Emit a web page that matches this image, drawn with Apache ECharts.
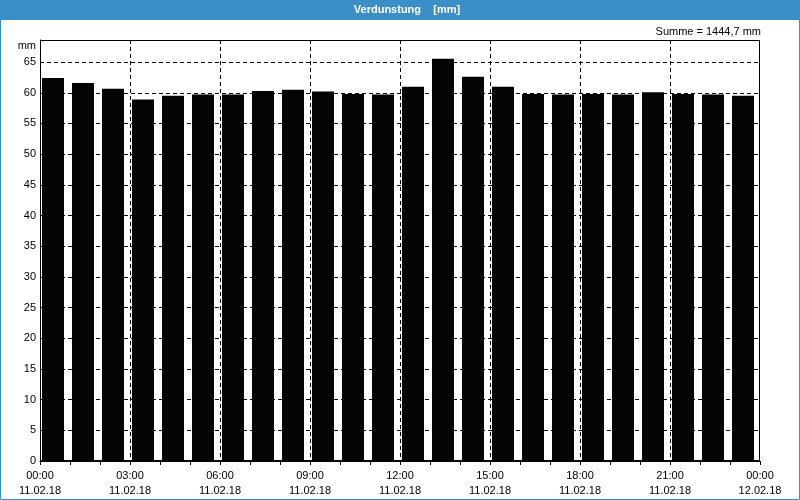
<!DOCTYPE html>
<html>
<head>
<meta charset="utf-8">
<script src="https://cdn.jsdelivr.net/npm/echarts@6/dist/echarts.min.js"></script>
<style>
html,body{margin:0;padding:0;background:#fff;}
#c{width:800px;height:500px;}
</style>
</head>
<body>
<div id="c"></div>
<script>
// Hourly categories (start hour of each bar)
var hours = ['00','01','02','03','04','05','06','07','08','09','10','11','12','13','14','15','16','17','18','19','20','21','22','23'];
// Evaporation values [mm]
var values = [62.4, 61.6, 60.65, 58.9, 59.5, 59.7, 59.7, 60.3, 60.5, 60.2, 59.8, 59.7, 61.0, 65.55, 62.6, 61.0, 59.8, 59.7, 59.8, 59.7, 60.1, 59.8, 59.7, 59.5];
// X tick labels (every 3 hours)
var xTickTimes = ['00:00','03:00','06:00','09:00','12:00','15:00','18:00','21:00','00:00'];
var xTickDates = ['11.02.18','11.02.18','11.02.18','11.02.18','11.02.18','11.02.18','11.02.18','11.02.18','12.02.18'];
var titleText = 'Verdunstung    [mm]';
var sumText = 'Summe = 1444,7 mm';
var unitText = 'mm';

var font = '"Liberation Sans", Arial, sans-serif';
var chart = echarts.init(document.getElementById('c'), null, {renderer: 'canvas'});
var option = {
  animation: false,
  backgroundColor: '#ffffff',
  textStyle: {fontFamily: font},
  graphic: [
    {type: 'rect', z: 0, shape: {x: 0, y: 0, width: 800, height: 20}, style: {fill: '#3b8fc7'}},
    {type: 'rect', z: 0, shape: {x: 0.5, y: 0.5, width: 799, height: 499}, style: {fill: null, stroke: '#3b8fc7', lineWidth: 1}},
    {type: 'rect', z: 100, silent: true, shape: {x: 40.5, y: 40.5, width: 719, height: 420}, style: {fill: null, stroke: '#000', lineWidth: 1}},
    {type: 'text', z: 10, x: 407, y: 10, style: {text: titleText, fill: '#ffffff', font: 'bold 11px ' + font, textAlign: 'center', textVerticalAlign: 'middle'}},
    {type: 'text', z: 10, x: 761, y: 32, style: {text: sumText, fill: '#000000', font: '11px ' + font, textAlign: 'right', textVerticalAlign: 'middle'}},
    {type: 'text', z: 10, x: 36, y: 46, style: {text: unitText, fill: '#000000', font: '11px ' + font, textAlign: 'right', textVerticalAlign: 'middle'}}
  ],
  grid: {left: 40, right: 40, top: 40, bottom: 39, show: false},
  xAxis: [
    {
      type: 'value', min: 0, max: 24, interval: 3, position: 'bottom',
      axisLine: {show: true, lineStyle: {color: '#000', width: 1}},
      axisTick: {show: true, length: 4, lineStyle: {color: '#000'}},
      minorTick: {show: true, splitNumber: 3, length: 4, lineStyle: {color: '#000'}},
      splitLine: {show: true, showMinLine: false, showMaxLine: false, lineStyle: {color: '#000', type: [4, 3], width: 1}},
      axisLabel: {
        color: '#000', fontSize: 11, fontFamily: font, margin: 7, lineHeight: 15,
        formatter: function (v) { var i = Math.round(v / 3); return xTickTimes[i] + '\n' + xTickDates[i]; }
      }
    },
    {
      type: 'category', data: hours, show: false, boundaryGap: true, position: 'bottom'
    }
  ],
  yAxis: {
    type: 'value', min: 0, max: 68.6, interval: 5,
    axisLine: {show: true, lineStyle: {color: '#000'}},
    axisTick: {show: false},
    splitLine: {show: true, showMinLine: false, showMaxLine: false, lineStyle: {color: '#000', type: [4, 3], width: 1}},
    axisLabel: {color: '#000', fontSize: 11, fontFamily: font, margin: 4, showMaxLabel: false}
  },
  series: [
    {type: 'bar', xAxisIndex: 1, data: values, barWidth: 22, barGap: '0%', itemStyle: {color: '#040404'}, z: 1, silent: true},
    {type: 'bar', xAxisIndex: 1, data: hours.map(function () { return null; }), barWidth: 4, barGap: '0%', silent: true}
  ]
};
chart.setOption(option);
</script>
</body>
</html>
